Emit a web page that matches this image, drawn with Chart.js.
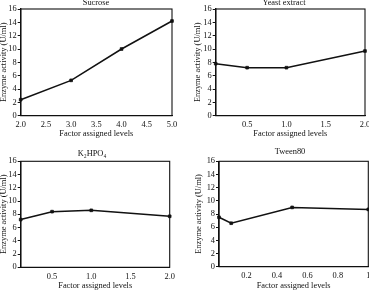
<!DOCTYPE html>
<html>
<head>
<meta charset="utf-8">
<script src="https://cdn.jsdelivr.net/npm/chart.js@4/dist/chart.umd.min.js"></script>
<style>
  html, body { margin: 0; padding: 0; background: #fff; overflow: hidden; width: 369px; height: 296px; }
  .panel { position: absolute; }
</style>
</head>
<body>
<div class="panel" style="left:0;top:0;width:180px;height:148px"><canvas id="c1"></canvas></div>
<div class="panel" style="left:184px;top:0;width:190px;height:148px"><canvas id="c2"></canvas></div>
<div class="panel" style="left:0;top:148px;width:180px;height:148px"><canvas id="c3"></canvas></div>
<div class="panel" style="left:184px;top:148px;width:195px;height:148px"><canvas id="c4"></canvas></div>
<script>
// ---- data ----
const panelTitles = ["Sucrose", "Yeast extract", "K\u2082HPO\u2084", "Tween80"];
const yTickLabels = ["0", "2", "4", "6", "8", "10", "12", "14", "16"];
const yAxisTitle = "Enzyme activity (U/ml)";
const xAxisTitle = "Factor assigned levels";

const sucroseLevels = [2, 3, 4, 5];
const sucroseActivity = [2.4, 5.3, 10.0, 14.2];
const sucroseTicks = ["2.0", "2.5", "3.0", "3.5", "4.0", "4.5", "5.0"];

const yeastLevels = [0.1, 0.5, 1.0, 2.0];
const yeastActivity = [7.8, 7.2, 7.2, 9.7];
const yeastTicks = ["0.5", "1.0", "1.5", "2.0"];

const k2hpo4Levels = [0.1, 0.5, 1.0, 2.0];
const k2hpo4Activity = [7.2, 8.4, 8.6, 7.7];
const k2hpo4Ticks = ["0.5", "1.0", "1.5", "2.0"];

const tweenLevels = [0.02, 0.1, 0.5, 1];
const tweenActivity = [7.5, 6.6, 9.0, 8.7];
const tweenTicks = ["0.2", "0.4", "0.6", "0.8", "1"];

// ---- drawing ----
const FONT = "'Liberation Serif', 'Times New Roman', serif";
const INK = "#111111";
const FS = 8.4;

const framePlugin = {
  id: 'frame',
  afterDraw(chart, args, opts) {
    const {ctx, chartArea: a} = chart;
    ctx.save();
    ctx.strokeStyle = INK;
    ctx.lineWidth = 1.1;
    ctx.strokeRect(a.left, a.top, a.right - a.left, a.bottom - a.top);
    ctx.fillStyle = INK;
    ctx.font = FS + "px " + FONT;
    ctx.textAlign = 'center';
    ctx.textBaseline = 'middle';
    ctx.fillText(opts.text, opts.x, opts.y);
    ctx.restore();
  }
};

function sizeCanvas(id, w) {
  const c = document.getElementById(id);
  c.width = w; c.height = 148;
  c.style.width = w + 'px'; c.style.height = '148px';
}

function makePanel(id, cfg) {
  const w = cfg.w, h = 148;
  sizeCanvas(id, w);
  const ticksVals = cfg.xTicks.map(Number);
  new Chart(document.getElementById(id), {
    type: 'line',
    data: {
      datasets: [{
        data: cfg.levels.map((x, i) => ({x: x, y: cfg.values[i]})),
        borderColor: INK,
        backgroundColor: INK,
        borderWidth: 1.5,
        pointRadius: 1.9,
        pointStyle: 'rect',
        pointBorderWidth: 0.8,
        tension: 0,
        clip: false
      }]
    },
    options: {
      responsive: false,
      animation: false,
      devicePixelRatio: 1,
      layout: { padding: { top: cfg.top, right: w - cfg.right, left: 0, bottom: 0 } },
      plugins: {
        legend: { display: false },
        tooltip: { enabled: false },
        frame: { text: cfg.title, x: cfg.tx, y: cfg.ty }
      },
      scales: {
        x: {
          type: 'linear',
          min: cfg.xmin, max: cfg.xmax,
          afterFit(s) { s.height = h - cfg.bottom; },
          afterBuildTicks(s) { s.ticks = ticksVals.map(v => ({value: v})); },
          ticks: {
            autoSkip: false, maxRotation: 0, padding: 1.5,
            color: INK, font: { family: FONT, size: FS },
            callback: (v, i) => cfg.xTicks[i]
          },
          grid: { display: false, drawTicks: true, tickLength: 3 },
          border: { display: true, color: INK, width: 1.1 },
          title: {
            display: true, text: xAxisTitle, color: INK,
            font: { family: FONT, size: FS, lineHeight: 1 },
            padding: { top: 0, bottom: cfg.xtPad }
          }
        },
        y: {
          type: 'linear',
          min: 0, max: 16,
          afterFit(s) { s.width = cfg.left; },
          afterBuildTicks(s) { s.ticks = yTickLabels.map(v => ({value: Number(v)})); },
          ticks: {
            padding: 1, color: INK, font: { family: FONT, size: FS },
            callback: (v, i) => yTickLabels[i]
          },
          grid: { drawOnChartArea: false, drawTicks: true, tickLength: 3, color: INK, lineWidth: 1 },
          border: { display: true, color: INK, width: 1.4 },
          title: {
            display: true, text: yAxisTitle, color: INK,
            font: { family: FONT, size: FS, lineHeight: 1 },
            padding: { top: cfg.ytPad, bottom: 0 }
          }
        }
      }
    },
    plugins: [framePlugin]
  });
}

makePanel('c1', { w: 180, left: 20.7, right: 172, top: 9, bottom: 115.7,
  levels: sucroseLevels, values: sucroseActivity, xTicks: sucroseTicks, xmin: 2, xmax: 5,
  title: panelTitles[0], tx: 96, ty: 3, xtPad: 9.5, ytPad: 0 });
makePanel('c2', { w: 190, left: 31.7, right: 181, top: 9, bottom: 115.7,
  levels: yeastLevels, values: yeastActivity, xTicks: yeastTicks, xmin: 0.1, xmax: 2,
  title: panelTitles[1], tx: 100, ty: 3, xtPad: 9.5, ytPad: 10 });
makePanel('c3', { w: 180, left: 20.7, right: 169.7, top: 13.3, bottom: 119.3,
  levels: k2hpo4Levels, values: k2hpo4Activity, xTicks: k2hpo4Ticks, xmin: 0.1, xmax: 2,
  title: panelTitles[2], tx: 92, ty: 5.7, xtPad: 6, ytPad: 0 });
makePanel('c4', { w: 195, left: 35, right: 184.3, top: 13.3, bottom: 118.7,
  levels: tweenLevels, values: tweenActivity, xTicks: tweenTicks, xmin: 0.02, xmax: 1,
  title: panelTitles[3], tx: 106, ty: 4, xtPad: 6, ytPad: 11 });
</script>
</body>
</html>
